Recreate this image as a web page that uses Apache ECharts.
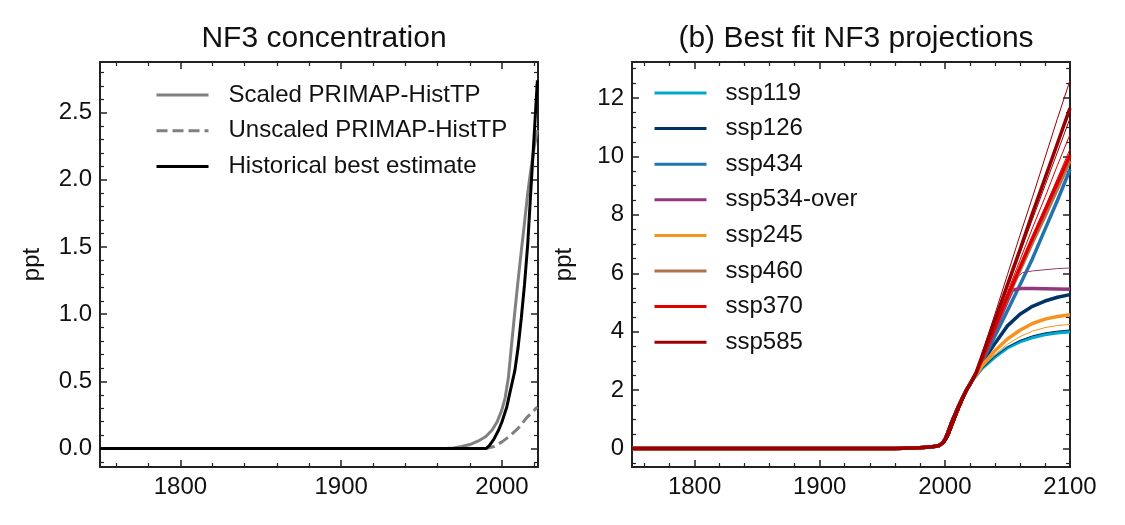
<!DOCTYPE html>
<html>
<head>
<meta charset="utf-8">
<script src="https://cdn.jsdelivr.net/npm/echarts@6/dist/echarts.min.js"></script>
</head>
<body style="margin:0;background:#fff">
<div id="main" style="width:1125px;height:525px;"></div>
<script type="text/javascript">
// ---- left panel: NF3 concentration ----
var scaledYears = [1750, 1965, 1970, 1975, 1980, 1985, 1990, 1994, 1997, 2000, 2002, 2004, 2006, 2008, 2010, 2012, 2014, 2016, 2018, 2020, 2022];
var scaledVals  = [0, 0, 0.005, 0.015, 0.03, 0.055, 0.09, 0.14, 0.2, 0.29, 0.38, 0.53, 0.78, 1.02, 1.25, 1.47, 1.68, 1.9, 2.08, 2.24, 2.37];
var unscaledYears = [1750, 1990, 1995, 2000, 2005, 2010, 2015, 2020, 2022];
var unscaledVals  = [0, 0, 0.015, 0.05, 0.095, 0.15, 0.225, 0.285, 0.31];
var bestYears = [1750, 1990, 1992, 1995, 1998, 2000, 2003, 2005, 2008, 2010, 2012, 2014, 2016, 2018, 2020, 2022];
var bestVals  = [0, 0, 0.02, 0.07, 0.14, 0.2, 0.31, 0.42, 0.58, 0.75, 0.97, 1.22, 1.52, 1.93, 2.33, 2.74];

// ---- right panel: best fit projections ----
var histYears = [1750, 1960, 1980, 1990, 1995, 1998, 2000, 2002, 2005, 2008, 2011, 2014, 2017, 2020, 2022];
var histVals  = [0, 0, 0.03, 0.06, 0.1, 0.18, 0.3, 0.5, 0.85, 1.15, 1.45, 1.72, 1.98, 2.2, 2.35];
var histThinYears = [1750, 1960, 1990, 1997, 2000, 2003, 2006, 2009, 2012, 2015, 2018, 2020, 2022];
var histThinVals  = [0, 0, 0.06, 0.12, 0.2, 0.42, 0.75, 1.08, 1.4, 1.7, 2.0, 2.2, 2.35];
var projYears = [2025, 2030, 2040, 2050, 2060, 2070, 2080, 2090, 2100];

var ssp119 = [2.5, 2.76, 3.14, 3.45, 3.66, 3.8, 3.9, 3.96, 4.0];
var ssp126 = [2.55, 2.95, 3.6, 4.2, 4.6, 4.87, 5.05, 5.18, 5.27];
var ssp434 = [2.55, 2.98, 3.85, 4.72, 5.6, 6.5, 7.5, 8.5, 9.55];
var ssp534Years = [2025, 2030, 2040, 2050, 2054, 2060, 2070, 2080, 2090, 2100];
var ssp534 = [2.55, 3.05, 4.05, 5.05, 5.42, 5.48, 5.48, 5.47, 5.46, 5.45];
var ssp245 = [2.52, 2.85, 3.35, 3.75, 4.05, 4.28, 4.43, 4.52, 4.58];
var ssp460 = [2.58, 3.1, 4.15, 5.15, 6.1, 7.05, 7.95, 8.9, 9.85];
var ssp370 = [2.58, 3.1, 4.15, 5.2, 6.2, 7.2, 8.15, 9.1, 10.05];
var ssp585 = [2.6, 3.2, 4.4, 5.6, 6.8, 8.05, 9.25, 10.45, 11.65];

// thin lines
var ssp119Thin = [2.47, 2.72, 3.1, 3.42, 3.63, 3.79, 3.9, 3.97, 4.02];
var ssp126Thin = [2.48, 2.75, 3.15, 3.47, 3.7, 3.86, 3.96, 4.02, 4.06];
var ssp245Thin = [2.5, 2.8, 3.22, 3.57, 3.83, 4.02, 4.14, 4.21, 4.25];
var ssp534ThinYears = [2025, 2030, 2040, 2050, 2058, 2062, 2070, 2080, 2090, 2100];
var ssp534Thin = [2.58, 3.1, 4.1, 5.1, 5.85, 6.02, 6.08, 6.12, 6.16, 6.18];
var ssp460Thin = [2.58, 3.1, 4.1, 5.1, 6.05, 7.0, 7.95, 8.9, 9.9];
var ssp370ThinA = [2.6, 3.15, 4.25, 5.35, 6.45, 7.55, 8.6, 9.7, 10.75];
var ssp370ThinB = [2.58, 3.1, 4.15, 5.2, 6.25, 7.25, 8.25, 9.25, 10.25];
var ssp585ThinA = [2.6, 3.3, 4.6, 5.95, 7.3, 8.6, 9.95, 11.3, 12.6];
var ssp585ThinB = [2.6, 3.2, 4.35, 5.5, 6.7, 7.85, 9.0, 10.15, 11.3];

var scenarios = ['ssp119', 'ssp126', 'ssp434', 'ssp534-over', 'ssp245', 'ssp460', 'ssp370', 'ssp585'];
var sspColors = ['#00a9cf', '#003466', '#2274ae', '#92397a', '#f69320', '#b0724e', '#df0000', '#980002'];

// ticks
var xMajorLeft = [1800, 1900, 2000];
var xMajorRight = [1800, 1900, 2000, 2100];
var yMajorLeft = [0, 0.5, 1.0, 1.5, 2.0, 2.5];
var yMajorRight = [0, 2, 4, 6, 8, 10, 12];

var FONT = "'Liberation Sans', Arial, sans-serif";

function pairs(xs, ys) {
    return xs.map(function (x, i) { return [x, ys[i]]; });
}
function minors(lo, hi, step, majors) {
    var out = [];
    for (var v = lo; v <= hi + 1e-9; v += step) {
        var r = Math.round(v * 1000) / 1000;
        if (majors.indexOf(r) < 0) out.push(r);
    }
    return out;
}

var myChart = echarts.init(document.getElementById('main'));

var fmt1 = function (v) { return v.toFixed(1); };
var fmt0 = function (v) { return String(v); };

function xAx(grid, max, majors, pos, labels, minorList) {
    return [{
        type: 'value', gridIndex: grid, position: pos, min: 1750, max: max,
        axisLine: {show: true, onZero: false, lineStyle: {color: '#222', width: 2}},
        axisTick: {show: true, inside: true, length: 7, customValues: majors, lineStyle: {color: '#222', width: 1.5}},
        axisLabel: {show: labels, customValues: majors, fontSize: 24, color: '#111', fontFamily: FONT, margin: 8, formatter: fmt0},
        splitLine: {show: false}
    }, {
        type: 'value', gridIndex: grid, position: pos, min: 1750, max: max,
        axisLine: {show: false, onZero: false},
        axisTick: {show: true, inside: true, length: 4, customValues: minorList, lineStyle: {color: '#222', width: 1.2}},
        axisLabel: {show: false},
        splitLine: {show: false}
    }];
}
function yAx(grid, min, max, majors, pos, labels, minorList, fmt, name) {
    return [{
        type: 'value', gridIndex: grid, position: pos, min: min, max: max,
        name: name, nameLocation: 'middle', nameGap: 56, nameRotate: 90,
        nameTextStyle: {fontSize: 24, color: '#111', fontFamily: FONT},
        axisLine: {show: true, onZero: false, lineStyle: {color: '#222', width: 2}},
        axisTick: {show: true, inside: true, length: 7, customValues: majors, lineStyle: {color: '#222', width: 1.5}},
        axisLabel: {show: labels, customValues: majors, fontSize: 24, color: '#111', fontFamily: FONT, margin: 8, formatter: fmt},
        splitLine: {show: false}
    }, {
        type: 'value', gridIndex: grid, position: pos, min: min, max: max,
        axisLine: {show: false, onZero: false},
        axisTick: {show: true, inside: true, length: 4, customValues: minorList, lineStyle: {color: '#222', width: 1.2}},
        axisLabel: {show: false},
        splitLine: {show: false}
    }];
}

var xMinorLeft = minors(1760, 2020, 20, xMajorLeft);
var xMinorRight = minors(1760, 2100, 20, xMajorRight);
var yMinorLeft = minors(-0.1, 2.8, 0.1, yMajorLeft);
var yMinorRight = minors(-0.5, 13, 0.5, yMajorRight);

var xAxes = [].concat(
    xAx(0, 2022.4, xMajorLeft, 'bottom', true, xMinorLeft),
    xAx(0, 2022.4, xMajorLeft, 'top', false, xMinorLeft),
    xAx(1, 2100, xMajorRight, 'bottom', true, xMinorRight),
    xAx(1, 2100, xMajorRight, 'top', false, xMinorRight)
);
var yAxes = [].concat(
    yAx(0, -0.137, 2.877, yMajorLeft, 'left', true, yMinorLeft, fmt1, 'ppt'),
    yAx(0, -0.137, 2.877, yMajorLeft, 'right', false, yMinorLeft, fmt1, ''),
    yAx(1, -0.63, 13.23, yMajorRight, 'left', true, yMinorRight, fmt0, 'ppt'),
    yAx(1, -0.63, 13.23, yMajorRight, 'right', false, yMinorRight, fmt0, '')
);

var series = [
    {name: 'Scaled PRIMAP-HistTP', type: 'line', xAxisIndex: 0, yAxisIndex: 0, symbol: 'none',
     data: pairs(scaledYears, scaledVals), lineStyle: {color: '#808080', width: 3}, itemStyle: {color: '#808080'}},
    {name: 'Unscaled PRIMAP-HistTP', type: 'line', xAxisIndex: 0, yAxisIndex: 0, symbol: 'none',
     data: pairs(unscaledYears, unscaledVals), lineStyle: {color: '#808080', width: 3, type: [11, 5]}, itemStyle: {color: '#808080'}},
    {name: 'Historical best estimate', type: 'line', xAxisIndex: 0, yAxisIndex: 0, symbol: 'none',
     data: pairs(bestYears, bestVals), lineStyle: {color: '#000', width: 3}, itemStyle: {color: '#000'}}
];

var thinSets = {
    'ssp119': [[projYears, ssp119Thin]],
    'ssp126': [[projYears, ssp126Thin]],
    'ssp434': [],
    'ssp534-over': [[ssp534ThinYears, ssp534Thin]],
    'ssp245': [[projYears, ssp245Thin]],
    'ssp460': [[projYears, ssp460Thin]],
    'ssp370': [[projYears, ssp370ThinA], [projYears, ssp370ThinB]],
    'ssp585': [[projYears, ssp585ThinA], [projYears, ssp585ThinB]]
};
var thickSets = {
    'ssp119': [projYears, ssp119], 'ssp126': [projYears, ssp126], 'ssp434': [projYears, ssp434],
    'ssp534-over': [ssp534Years, ssp534], 'ssp245': [projYears, ssp245], 'ssp460': [projYears, ssp460],
    'ssp370': [projYears, ssp370], 'ssp585': [projYears, ssp585]
};

scenarios.forEach(function (s, k) {
    var c = sspColors[k];
    thinSets[s].forEach(function (t, j) {
        series.push({
            name: s + ' thin ' + j, type: 'line', xAxisIndex: 4, yAxisIndex: 4, symbol: 'none',
            data: pairs(histThinYears, histThinVals).concat(pairs(t[0], t[1])),
            lineStyle: {color: c, width: 1}, itemStyle: {color: c}
        });
    });
    var th = thickSets[s];
    series.push({
        name: s, type: 'line', xAxisIndex: 4, yAxisIndex: 4, symbol: 'none',
        data: pairs(histYears, histVals).concat(pairs(th[0], th[1])),
        lineStyle: {color: c, width: 3.5}, itemStyle: {color: c}
    });
});

var option = {
    animation: false,
    backgroundColor: '#fff',
    textStyle: {fontFamily: FONT},
    title: [
        {text: 'NF3 concentration', left: 319, top: 19, textAlign: 'center',
         textStyle: {fontSize: 30, fontWeight: 'normal', color: '#111', fontFamily: FONT}},
        {text: '(b) Best fit NF3 projections', left: 851, top: 19, textAlign: 'center',
         textStyle: {fontSize: 30, fontWeight: 'normal', color: '#111', fontFamily: FONT}}
    ],
    grid: [
        {left: 100, top: 62, width: 438, height: 405},
        {left: 632, top: 62, width: 438, height: 405}
    ],
    legend: [
        {data: ['Scaled PRIMAP-HistTP', 'Unscaled PRIMAP-HistTP', 'Historical best estimate'],
         orient: 'vertical', left: 155, top: 82, padding: 0, itemWidth: 52, itemHeight: 14, itemGap: 9.8,
         selectedMode: false, itemStyle: {opacity: 0}, lineStyle: {width: 3},
         textStyle: {fontSize: 24, lineHeight: 26, color: '#111', fontFamily: FONT, padding: [0, 0, 0, 15]}},
        {data: scenarios,
         orient: 'vertical', left: 653, top: 80, padding: 0, itemWidth: 52, itemHeight: 14, itemGap: 9.6,
         selectedMode: false, itemStyle: {opacity: 0}, lineStyle: {width: 3},
         textStyle: {fontSize: 24, lineHeight: 26, color: '#111', fontFamily: FONT, padding: [0, 0, 0, 14]}}
    ],
    xAxis: xAxes,
    yAxis: yAxes,
    series: series
};
myChart.setOption(option);
</script>
</body>
</html>
